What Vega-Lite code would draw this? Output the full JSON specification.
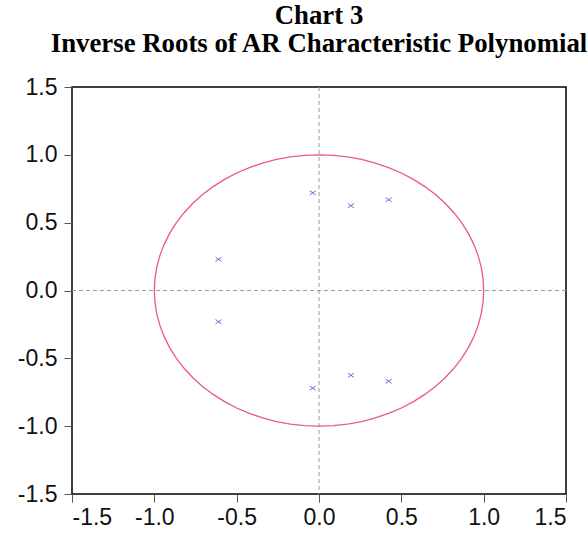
{
  "$schema": "https://vega.github.io/schema/vega-lite/v6.json",
  "width": 494,
  "height": 407,
  "autosize": "none",
  "padding": {"left": 72, "top": 87, "right": 22, "bottom": 39},
  "background": "white",
  "title": {
    "text": ["Chart 3", "Inverse Roots of AR Characteristic Polynomial"],
    "font": "Liberation Serif",
    "fontSize": 26.8,
    "fontWeight": "bold",
    "color": "#000",
    "lineHeight": 28,
    "anchor": "middle",
    "offset": 18
  },
  "config": {
    "view": {"stroke": "#000", "strokeWidth": 1.5},
    "axis": {
      "domain": false,
      "grid": false,
      "labelFont": "Liberation Sans",
      "labelFontSize": 23,
      "labelColor": "#111",
      "tickColor": "#555",
      "tickWidth": 1,
      "title": null
    }
  },
  "datasets": {
    "circle": [
      {"i":0,"cx":1,"cy":0},{"i":1,"cx":0.9962,"cy":0.0872},{"i":2,"cx":0.9848,"cy":0.1736},{"i":3,"cx":0.9659,"cy":0.2588},
      {"i":4,"cx":0.9397,"cy":0.342},{"i":5,"cx":0.9063,"cy":0.4226},{"i":6,"cx":0.866,"cy":0.5},{"i":7,"cx":0.8192,"cy":0.5736},
      {"i":8,"cx":0.766,"cy":0.6428},{"i":9,"cx":0.7071,"cy":0.7071},{"i":10,"cx":0.6428,"cy":0.766},{"i":11,"cx":0.5736,"cy":0.8192},
      {"i":12,"cx":0.5,"cy":0.866},{"i":13,"cx":0.4226,"cy":0.9063},{"i":14,"cx":0.342,"cy":0.9397},{"i":15,"cx":0.2588,"cy":0.9659},
      {"i":16,"cx":0.1736,"cy":0.9848},{"i":17,"cx":0.0872,"cy":0.9962},{"i":18,"cx":0,"cy":1},
      {"i":19,"cx":-0.0872,"cy":0.9962},{"i":20,"cx":-0.1736,"cy":0.9848},{"i":21,"cx":-0.2588,"cy":0.9659},{"i":22,"cx":-0.342,"cy":0.9397},
      {"i":23,"cx":-0.4226,"cy":0.9063},{"i":24,"cx":-0.5,"cy":0.866},{"i":25,"cx":-0.5736,"cy":0.8192},{"i":26,"cx":-0.6428,"cy":0.766},
      {"i":27,"cx":-0.7071,"cy":0.7071},{"i":28,"cx":-0.766,"cy":0.6428},{"i":29,"cx":-0.8192,"cy":0.5736},{"i":30,"cx":-0.866,"cy":0.5},
      {"i":31,"cx":-0.9063,"cy":0.4226},{"i":32,"cx":-0.9397,"cy":0.342},{"i":33,"cx":-0.9659,"cy":0.2588},{"i":34,"cx":-0.9848,"cy":0.1736},
      {"i":35,"cx":-0.9962,"cy":0.0872},{"i":36,"cx":-1,"cy":0},
      {"i":37,"cx":-0.9962,"cy":-0.0872},{"i":38,"cx":-0.9848,"cy":-0.1736},{"i":39,"cx":-0.9659,"cy":-0.2588},{"i":40,"cx":-0.9397,"cy":-0.342},
      {"i":41,"cx":-0.9063,"cy":-0.4226},{"i":42,"cx":-0.866,"cy":-0.5},{"i":43,"cx":-0.8192,"cy":-0.5736},{"i":44,"cx":-0.766,"cy":-0.6428},
      {"i":45,"cx":-0.7071,"cy":-0.7071},{"i":46,"cx":-0.6428,"cy":-0.766},{"i":47,"cx":-0.5736,"cy":-0.8192},{"i":48,"cx":-0.5,"cy":-0.866},
      {"i":49,"cx":-0.4226,"cy":-0.9063},{"i":50,"cx":-0.342,"cy":-0.9397},{"i":51,"cx":-0.2588,"cy":-0.9659},{"i":52,"cx":-0.1736,"cy":-0.9848},
      {"i":53,"cx":-0.0872,"cy":-0.9962},{"i":54,"cx":0,"cy":-1},
      {"i":55,"cx":0.0872,"cy":-0.9962},{"i":56,"cx":0.1736,"cy":-0.9848},{"i":57,"cx":0.2588,"cy":-0.9659},{"i":58,"cx":0.342,"cy":-0.9397},
      {"i":59,"cx":0.4226,"cy":-0.9063},{"i":60,"cx":0.5,"cy":-0.866},{"i":61,"cx":0.5736,"cy":-0.8192},{"i":62,"cx":0.6428,"cy":-0.766},
      {"i":63,"cx":0.7071,"cy":-0.7071},{"i":64,"cx":0.766,"cy":-0.6428},{"i":65,"cx":0.8192,"cy":-0.5736},{"i":66,"cx":0.866,"cy":-0.5},
      {"i":67,"cx":0.9063,"cy":-0.4226},{"i":68,"cx":0.9397,"cy":-0.342},{"i":69,"cx":0.9659,"cy":-0.2588},{"i":70,"cx":0.9848,"cy":-0.1736},
      {"i":71,"cx":0.9962,"cy":-0.0872},{"i":72,"cx":1,"cy":0}
    ],
    "roots": [
      {"re": -0.61, "im": 0.23},
      {"re": -0.61, "im": -0.23},
      {"re": -0.038, "im": 0.72},
      {"re": -0.038, "im": -0.72},
      {"re": 0.194, "im": 0.625},
      {"re": 0.194, "im": -0.625},
      {"re": 0.423, "im": 0.669},
      {"re": 0.423, "im": -0.669}
    ]
  },
  "layer": [
    {
      "data": {"values": [{"z": 0}]},
      "mark": {"type": "rule", "color": "#9a9a9a", "strokeWidth": 1, "strokeDash": [4, 3]},
      "encoding": {
        "x": {"field": "z", "type": "quantitative",
          "scale": {"domain": [-1.5, 1.5], "nice": false, "zero": false},
          "axis": {"values": [-1.5, -1, -0.5, 0, 0.5, 1, 1.5], "labelExpr": "datum.value < 0 ? '-' + format(abs(datum.value), '.1f') : format(datum.value, '.1f')", "tickSize": 8, "labelPadding": 4}}
      }
    },
    {
      "data": {"values": [{"z": 0}]},
      "mark": {"type": "rule", "color": "#9a9a9a", "strokeWidth": 1, "strokeDash": [4, 3]},
      "encoding": {
        "y": {"field": "z", "type": "quantitative",
          "scale": {"domain": [-1.5, 1.5], "nice": false, "zero": false},
          "axis": {"values": [-1.5, -1, -0.5, 0, 0.5, 1, 1.5], "labelExpr": "datum.value < 0 ? '-' + format(abs(datum.value), '.1f') : format(datum.value, '.1f')", "tickSize": 8, "labelPadding": 7}}
      }
    },
    {
      "data": {"name": "circle"},
      "mark": {"type": "line", "color": "#ec5a78", "strokeWidth": 1.3},
      "encoding": {
        "x": {"field": "cx", "type": "quantitative"},
        "y": {"field": "cy", "type": "quantitative"},
        "order": {"field": "i", "type": "quantitative"}
      }
    },
    {
      "data": {"name": "roots"},
      "mark": {"type": "point", "shape": "M-1,-0.7L1,0.7M-1,0.7L1,-0.7", "filled": false, "size": 36, "color": "#6a6ad8", "strokeWidth": 1, "opacity": 1},
      "encoding": {
        "x": {"field": "re", "type": "quantitative"},
        "y": {"field": "im", "type": "quantitative"}
      }
    }
  ]
}
